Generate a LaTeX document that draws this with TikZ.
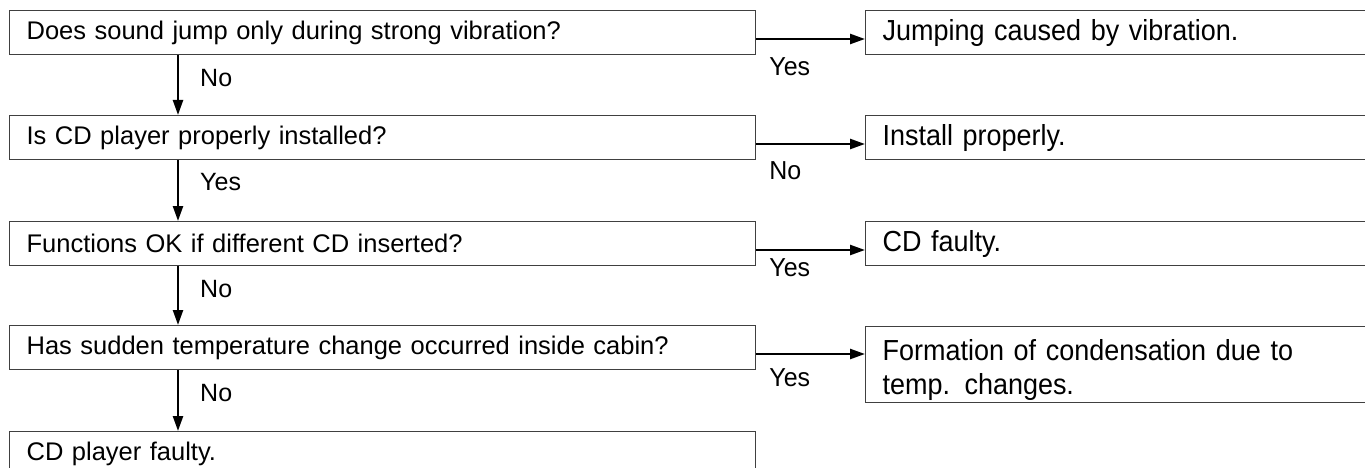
\documentclass[tikz,border=0pt]{standalone}
\usepackage{fontspec}
\setmainfont{Liberation Sans}
\newfontfamily\narrowface[FakeStretch=0.93]{Liberation Sans}
\newfontfamily\labelface[FakeStretch=0.96]{Liberation Sans}
\usetikzlibrary{arrows.meta}

\tikzset{
  qbox/.style={draw=black!75, line width=1.2pt, rectangle, anchor=north west,
    minimum width=746pt, minimum height=44pt, text width=712pt,
    inner xsep=17pt, inner ysep=0pt, align=left, font=\fontsize{25.5}{30}\selectfont},
  rbox/.style={draw=black!75, line width=1.2pt, rectangle, anchor=north west,
    minimum width=540pt, minimum height=44pt, text width=506pt,
    inner xsep=17pt, inner ysep=0pt, align=left, font=\narrowface\fontsize{29}{34}\selectfont},
  arr/.style={line width=2.4pt, -{Triangle[length=15pt,width=10pt]}},
  vlab/.style={anchor=west, font=\fontsize{25}{30}\selectfont, inner sep=0pt},
  hlab/.style={anchor=west, font=\labelface\fontsize{26}{30}\selectfont, inner sep=0pt}
}

\begin{document}
\begin{tikzpicture}[x=1pt,y=-1pt]
  \useasboundingbox (0,0) rectangle (1365,468);
  \clip (0,0) rectangle (1365,468);

  % questions (left column)
  \node[qbox] (q1) at (9,10)  {Does sound jump only during strong vibration?};
  \node[qbox] (q2) at (9,115) {Is CD player properly installed?};
  \node[qbox] (q3) at (9,221) {Functions OK if different CD inserted?};
  \node[qbox] (q4) at (9,325) {Has sudden temperature change occurred inside cabin?};
  \node[qbox] (q5) at (9,431) {CD player faulty.};

  % results (right column)
  \node[rbox] (r1) at (865,10)  {Jumping caused by vibration.};
  \node[rbox] (r2) at (865,115) {Install properly.};
  \node[rbox] (r3) at (865,221) {CD faulty.};
  \node[rbox, minimum height=76pt] (r4) at (865,326) {\rule{0pt}{31pt}Formation of condensation due to\\temp. changes.};

  % downward connectors
  \draw[arr] ([xshift=169pt]q1.south west) -- node[vlab, pos=0.38, xshift=21pt] {No}  ([xshift=169pt]q2.north west);
  \draw[arr] ([xshift=169pt]q2.south west) -- node[vlab, pos=0.36, xshift=21pt] {Yes} ([xshift=169pt]q3.north west);
  \draw[arr] ([xshift=169pt]q3.south west) -- node[vlab, pos=0.38, xshift=21pt] {No}  ([xshift=169pt]q4.north west);
  \draw[arr] ([xshift=169pt]q4.south west) -- node[vlab, pos=0.38, xshift=21pt] {No}  ([xshift=169pt]q5.north west);

  % sideways connectors
  \draw[arr] ([yshift=-29pt]q1.north east) coordinate (h1) -- ([yshift=-29pt]r1.north west);
  \draw[arr] ([yshift=-29pt]q2.north east) coordinate (h2) -- ([yshift=-29pt]r2.north west);
  \draw[arr] ([yshift=-29pt]q3.north east) coordinate (h3) -- ([yshift=-29pt]r3.north west);
  \draw[arr] ([yshift=-29pt]q4.north east) coordinate (h4) -- ([yshift=-28pt]r4.north west);

  \node[hlab] (l1) at ([xshift=13pt,yshift=-28pt]h1) {Yes};
  \node[hlab] (l2) at ([xshift=13pt,yshift=-27pt]h2) {No};
  \node[hlab] (l3) at ([xshift=13pt,yshift=-18pt]h3) {Yes};
  \node[hlab] (l4) at ([xshift=13pt,yshift=-24pt]h4) {Yes};
\end{tikzpicture}
\end{document}
